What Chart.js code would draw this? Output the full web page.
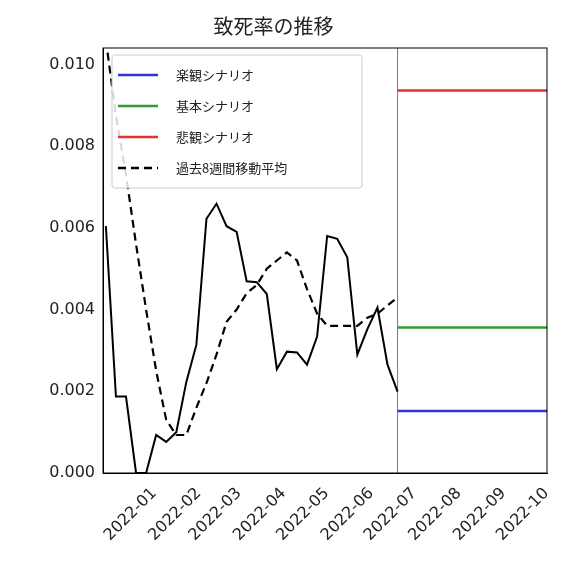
<!DOCTYPE html>
<html><head><meta charset="utf-8">
<script src="https://cdn.jsdelivr.net/npm/chart.js@4"></script>
<style>body{margin:0;background:#fff}#w{width:562px;height:580px}</style>
</head><body><div id="w"><canvas id="c"></canvas></div>
<script>
// days since 2022-01-01, weekly
const startDay = -17;
const weekly = [0.00604,0.00187,0.00187,0,0,0.00093,0.00076,0.0010,0.00223,0.00314,0.00622,0.00659,0.00604,0.00590,0.00469,0.00467,0.00438,0.00254,0.00297,0.00295,0.00265,0.00334,0.00580,0.00573,0.00528,0.00290,0.00352,0.00405,0.00265,0.00199];
const movingAvg = [0.0106,0.00875,0.0073,0.0056,0.0040,0.0025,0.0013,0.00093,0.00093,0.0016,0.0022,0.0029,0.0037,0.0040,0.0044,0.0046,0.0050,0.0052,0.0054,0.0052,0.0045,0.0039,0.0036,0.0036,0.0036,0.0036,0.0038,0.0039,0.0041,0.0043];
const scenarioStart = 186, scenarioEnd = 290;
const optimistic = 0.00152, base = 0.00356, pessimistic = 0.00936;
const monthTicks = [0,31,59,90,120,151,181,212,243,273];
const monthLabels = ['2022-01','2022-02','2022-03','2022-04','2022-05','2022-06','2022-07','2022-08','2022-09','2022-10'];
const yTicks = [0,0.002,0.004,0.006,0.008,0.010];
const xMin = -19, xMax = 290, yMax = 0.0104;

const pts = a => a.map((v,i)=>({x:startDay+i*7,y:v}));
const hl = v => [{x:scenarioStart,y:v},{x:scenarioEnd,y:v}];
const F = 'DejaVu Sans';
const legendItems = [
 {label:'楽観シナリオ',color:'#3333dd',dash:[]},
 {label:'基本シナリオ',color:'#339933',dash:[]},
 {label:'悲観シナリオ',color:'#dd3333',dash:[]},
 {label:'過去8週間移動平均',color:'#000',dash:[8,5]}];
const framePlugin = {id:'frame',afterDraw(ch){
  const {ctx,chartArea:a}=ch; ctx.save();
  ctx.strokeStyle='#000';ctx.lineWidth=1;ctx.strokeRect(a.left,a.top,a.right-a.left,a.bottom-a.top);
  const lx=a.left+9, ly=a.top+7, w=250, h=133;
  ctx.fillStyle='rgba(255,255,255,0.85)';ctx.strokeStyle='#ccc';
  ctx.beginPath();ctx.roundRect(lx,ly,w,h,3);ctx.fill();ctx.stroke();
  ctx.font='13px "Noto Sans CJK JP"';ctx.textBaseline='middle';
  legendItems.forEach((it,i)=>{const y=ly+20+i*31;
    ctx.strokeStyle=it.color;ctx.lineWidth=2.5;ctx.setLineDash(it.dash);
    ctx.beginPath();ctx.moveTo(lx+6,y);ctx.lineTo(lx+46,y);ctx.stroke();ctx.setLineDash([]);
    ctx.fillStyle='#222';ctx.fillText(it.label,lx+64,y);});
  ctx.restore();}};
new Chart(document.getElementById('c'),{
 type:'line',
 data:{datasets:[
  {data:hl(optimistic),borderColor:'#3333dd',borderWidth:2.5},
  {data:hl(base),borderColor:'#339933',borderWidth:2.5},
  {data:hl(pessimistic),borderColor:'#dd3333',borderWidth:2.5},
  {data:pts(movingAvg),borderColor:'#000',borderWidth:2.2,borderDash:[8,5]},
  {data:pts(weekly),borderColor:'#000',borderWidth:2},
  {data:[{x:scenarioStart,y:0},{x:scenarioStart,y:yMax}],borderColor:'#555',borderWidth:0.8}
 ]},
 plugins:[framePlugin],
 options:{responsive:true,maintainAspectRatio:false,animation:false,
  elements:{point:{radius:0}},
  layout:{padding:{right:15,top:4}},
  plugins:{legend:{display:false},tooltip:{enabled:false},
   title:{display:true,text:'致死率の推移',font:{family:'Noto Sans CJK JP',size:20,weight:'normal'},color:'#222',padding:{top:10,bottom:10}}},
  scales:{
   x:{type:'linear',min:xMin,max:xMax,grid:{display:false,drawTicks:true,tickLength:5,tickColor:'#000'},border:{color:'#000'},
    afterBuildTicks(s){s.ticks=monthTicks.map(v=>({value:v}));},
    afterFit(s){s.height=107;},
    ticks:{autoSkip:false,maxRotation:45,minRotation:45,labelOffset:24,padding:6,color:'#222',font:{family:F,size:16},
     callback(v){const i=monthTicks.indexOf(v);return i>=0?monthLabels[i]:'';}}},
   y:{min:0,max:yMax,grid:{display:false,drawTicks:true,tickLength:5,tickColor:'#000'},border:{color:'#000'},
    afterBuildTicks(s){s.ticks=yTicks.map(v=>({value:v}));},
    afterFit(s){s.width=103;},
    ticks:{color:'#222',font:{family:F,size:16},callback:v=>v.toFixed(3)}}
  }}
});
</script></body></html>
